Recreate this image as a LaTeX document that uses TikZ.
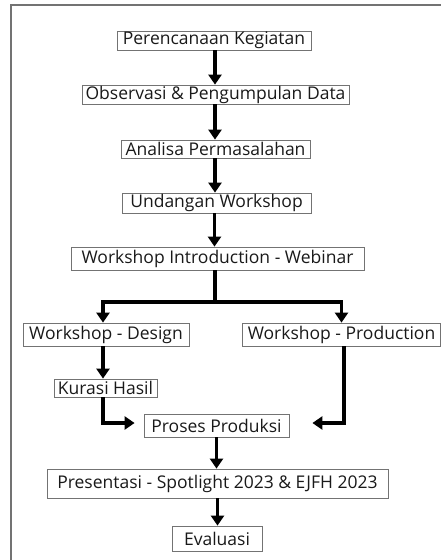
\documentclass[tikz,border=0pt]{standalone}
\usepackage{fontspec}
\setmainfont{Open Sans}
\usetikzlibrary{arrows.meta}
\begin{document}
\begin{tikzpicture}[x=1pt,y=-1pt,
  box/.style={draw=black!55,line width=0.8pt,inner sep=0pt,font=\fontsize{17.5}{19}\selectfont,text=black!90},
  arr/.style={line width=3.4pt,-{Triangle[width=13pt,length=10pt]}},
  ln/.style={line width=3.4pt}]
\useasboundingbox (0,0) rectangle (441,560);
\draw[black!55,line width=1.2pt] (11,562) -- (11,5) -- (443,5);
\node[box,minimum width=194pt,minimum height=19pt] (p1) at (214,40.5) {Perencanaan Kegiatan};
\node[box,minimum width=267pt,minimum height=19pt] (p2) at (215.5,94.5) {Observasi \& Pengumpulan Data};
\node[box,minimum width=189pt,minimum height=18pt] (p3) at (215.5,149) {Analisa Permasalahan};
\node[box,minimum width=189pt,minimum height=20pt] (p4) at (216.5,203) {Undangan Workshop};
\node[box,minimum width=293pt,minimum height=23pt] (p5) at (217.5,258.5) {Workshop Introduction - Webinar};
\node[box,minimum width=166pt,minimum height=23pt] (p6) at (106,334.5) {Workshop - Design};
\node[box,minimum width=198pt,minimum height=23pt] (p7) at (341.5,334.5) {Workshop - Production};
\node[box,minimum width=103pt,minimum height=18pt] (p8) at (105.5,388) {Kurasi Hasil};
\node[box,minimum width=145pt,minimum height=23pt] (p9) at (216.5,425.5) {Proses Produksi};
\node[box,minimum width=341pt,minimum height=29pt] (p10) at (217.5,483.5) {Presentasi - Spotlight 2023 \& EJFH 2023};
\node[box,minimum width=90pt,minimum height=25pt] (p11) at (217,538.5) {Evaluasi};
\coordinate (j) at (215,302);
\draw[arr] ([xshift=1pt]p1.south) -- ([xshift=1pt]p1.south |- p2.north);
\draw[arr] ([xshift=-0.5pt]p2.south) -- ([xshift=-0.5pt]p2.south |- p3.north);
\draw[arr] ([xshift=-0.5pt]p3.south) -- ([xshift=-0.5pt]p3.south |- p4.north);
\draw[arr] ([xshift=-2pt]p4.south) -- ([xshift=-2pt]p4.south |- p5.north);
\draw[ln] ([xshift=-2.5pt]p5.south) -- (j);
\draw[arr] (j) -| ([xshift=-3pt]p6.north);
\draw[arr] (j) -| (p7.north);
\draw[arr] ([xshift=-3pt]p6.south) -- ([xshift=-3pt]p6.south |- p8.north);
\draw[arr] ([xshift=-2.5pt]p8.south) |- ([xshift=-9pt,yshift=2.5pt]p9.west);
\draw[arr] ([xshift=2.5pt]p7.south) |- ([xshift=23pt,yshift=2.5pt]p9.east);
\draw[arr] (p9.south) -- (p9.south |- p10.north);
\draw[arr] (p10.south) -- (p10.south |- p11.north);
\end{tikzpicture}
\end{document}
